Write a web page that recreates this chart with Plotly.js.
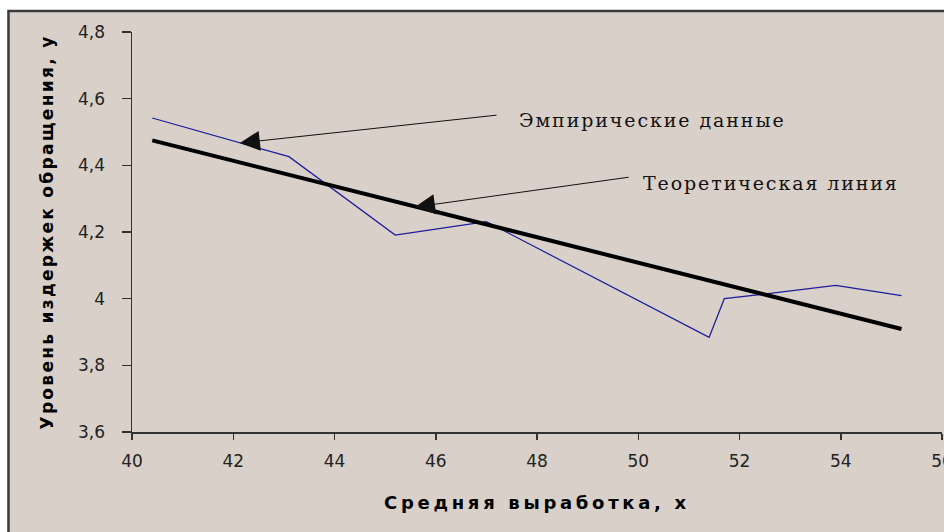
<!DOCTYPE html>
<html>
<head>
<meta charset="utf-8">
<script src="https://cdn.plot.ly/plotly-3.0.1.min.js"></script>
<style>html,body{margin:0;padding:0;background:#fff;}#chart{width:944px;height:532px;}</style>
</head>
<body>
<div id="chart"></div>
<script>
// Data
const xValues = [40.4, 43.1, 45.2, 47.0, 51.4, 51.7, 52.4, 53.9, 55.2];
const empirical = [4.542, 4.426, 4.191, 4.231, 3.884, 4.000, 4.012, 4.040, 4.009];
const theoretical = [4.475, 4.372, 4.291, 4.223, 4.055, 4.043, 4.016, 3.959, 3.909];
const xTicks = [40, 42, 44, 46, 48, 50, 52, 54, 56];
const yTicks = [3.6, 3.8, 4.0, 4.2, 4.4, 4.6, 4.8];
const labelEmpirical = 'Эмпирические данные';
const labelTheoretical = 'Теоретическая линия';
const xTitle = 'Средняя выработка, х';
const yTitle = 'Уровень издержек обращения, у';

const bg = '#d8d0c9';

const traces = [
  {x: xValues, y: empirical, type: 'scatter', mode: 'lines', name: labelEmpirical,
   line: {color: '#1c1c9c', width: 1.2}, hoverinfo: 'skip'},
  {x: xValues, y: theoretical, type: 'scatter', mode: 'lines', name: labelTheoretical,
   line: {color: '#000000', width: 4}, hoverinfo: 'skip'}
];

const layout = {
  width: 944, height: 532,
  margin: {l: 132, r: 2, t: 32, b: 100},
  paper_bgcolor: '#ffffff',
  plot_bgcolor: 'rgba(0,0,0,0)',
  showlegend: false,
  separators: ', ',
  font: {family: 'DejaVu Sans', size: 17, color: '#222'},
  xaxis: {
    range: [40, 56], tickvals: xTicks, showgrid: false, zeroline: false,
    showline: true, linecolor: '#333', linewidth: 1.5,
    ticks: 'outside', ticklen: 6, tickcolor: '#333', tickwidth: 1.5,
    tickfont: {family: 'DejaVu Sans', size: 17, color: '#222'},
    ticklabelstandoff: 7, ticklabeloverflow: 'allow',
    title: {text: '<span style="letter-spacing:3.7px">' + xTitle + '</span>',
            font: {family: 'DejaVu Sans', size: 18, color: '#000', weight: 'bold'}, standoff: 26}
  },
  yaxis: {
    range: [3.6, 4.8], tickvals: yTicks, showgrid: false, zeroline: false,
    showline: true, linecolor: '#333', linewidth: 1.5,
    ticks: 'outside', ticklen: 9, tickcolor: '#333', tickwidth: 1.5,
    tickfont: {family: 'DejaVu Sans', size: 17, color: '#222'},
    ticklabelstandoff: 13,
    title: {text: '<span style="letter-spacing:2.3px">' + yTitle + '</span>',
            font: {family: 'DejaVu Sans', size: 17, color: '#000', weight: 'bold'}, standoff: 20}
  },
  shapes: [
    {type: 'rect', xref: 'paper', yref: 'paper', layer: 'below',
     x0: -0.1525, x1: 1.2, y0: -0.4, y1: 1.0525,
     fillcolor: bg, line: {color: '#3a3a3a', width: 2.5}}
  ],
  annotations: [
    {x: 42.13, y: 4.467, ax: 47.23, ay: 4.551, xref: 'x', yref: 'y', axref: 'x', ayref: 'y',
     text: '', showarrow: true, arrowhead: 2, arrowsize: 4, arrowwidth: 1, arrowcolor: '#111'},
    {x: 45.59, y: 4.275, ax: 49.84, ay: 4.365, xref: 'x', yref: 'y', axref: 'x', ayref: 'y',
     text: '', showarrow: true, arrowhead: 2, arrowsize: 4, arrowwidth: 1, arrowcolor: '#111'},
    {x: 47.61, y: 4.536, xref: 'x', yref: 'y', xanchor: 'left', yanchor: 'middle', showarrow: false,
     text: '<span style="letter-spacing:1.9px">' + labelEmpirical + '</span>',
     font: {family: 'DejaVu Serif', size: 19, color: '#111'}},
    {x: 50.06, y: 4.347, xref: 'x', yref: 'y', xanchor: 'left', yanchor: 'middle', showarrow: false,
     text: '<span style="letter-spacing:1.9px">' + labelTheoretical + '</span>',
     font: {family: 'DejaVu Serif', size: 19, color: '#111'}}
  ]
};

Plotly.newPlot('chart', traces, layout, {displayModeBar: false, staticPlot: true});
</script>
</body>
</html>
